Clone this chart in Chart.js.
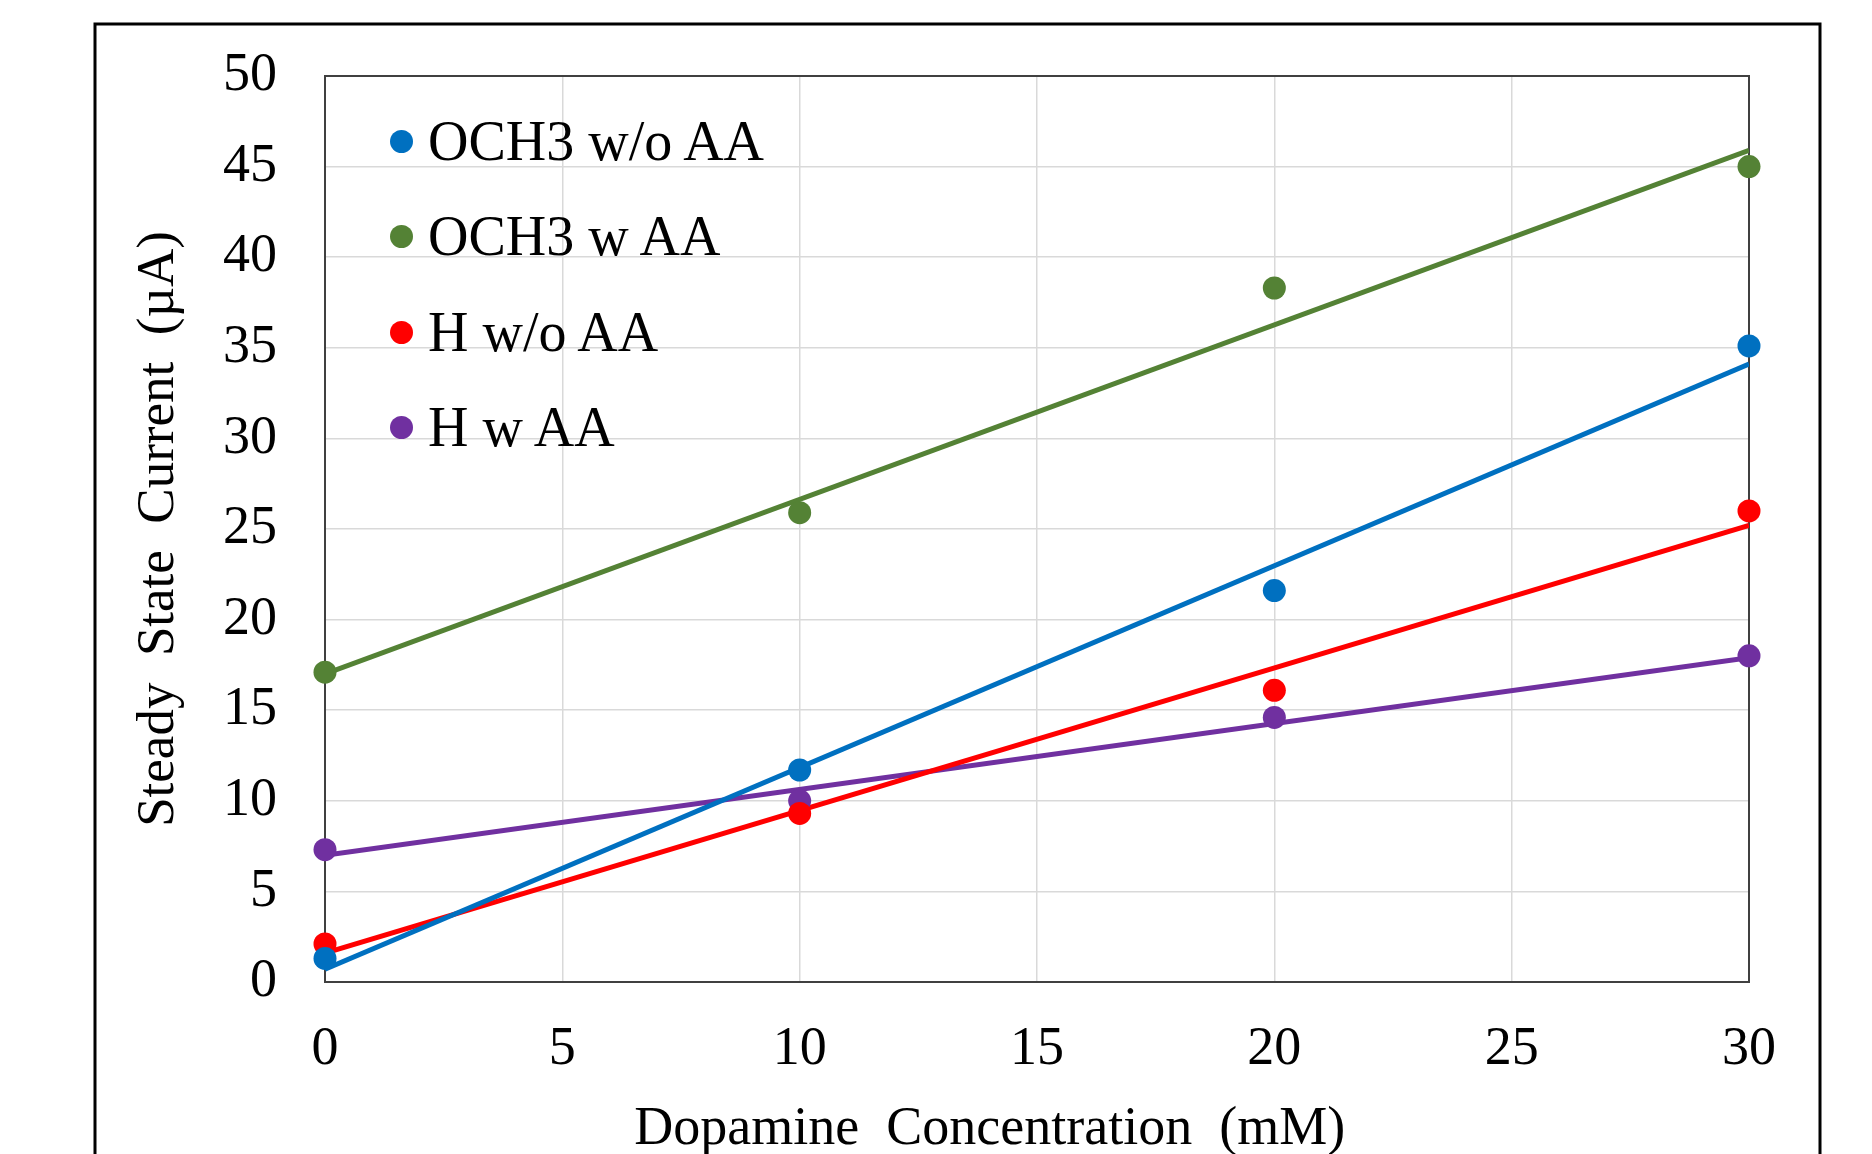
<!DOCTYPE html>
<html>
<head>
<meta charset="utf-8">
<script src="https://cdn.jsdelivr.net/npm/chart.js@4.4.1/dist/chart.umd.min.js"></script>
<style>
  html, body { margin: 0; padding: 0; background: #fff; }
  #wrap { position: relative; width: 1872px; height: 1154px; overflow: hidden; }
  #legend { position: absolute; left: 0; top: 0; font-family: "Liberation Serif", "Times New Roman", serif; font-size: 56px; color: #000; }
  .item { position: absolute; left: 390px; height: 60px; line-height: 60px; white-space: nowrap; display: flex; align-items: center; }
  .dot { width: 23px; height: 23px; border-radius: 50%; margin-right: 15px; }
</style>
</head>
<body>
<div id="wrap">
  <canvas id="chart" width="1872" height="1154"></canvas>
  <div id="legend"></div>
</div>
<script>
// data
const concentration = [0, 10, 20, 30];
const labels = ['OCH3 w/o AA', 'OCH3 w AA', 'H w/o AA', 'H w AA'];
const och3NoAA = [1.3, 11.7, 21.6, 35.1];
const och3AA = [17.1, 25.9, 38.3, 45.0];
const hNoAA = [2.1, 9.3, 16.1, 26.0];
const hAA = [7.3, 10.0, 14.6, 18.0];
// linear trendline ends at x = 0 and x = 30
const trendX = [0, 30];
const trendOch3NoAA = [0.7, 34.1];
const trendOch3AA = [17.0, 45.9];
const trendHNoAA = [1.6, 25.2];
const trendHAA = [7.0, 17.9];

const colors = ['#0070C0', '#548235', '#FF0000', '#7030A0'];
const series = [och3NoAA, och3AA, hNoAA, hAA];
const trends = [trendOch3NoAA, trendOch3AA, trendHNoAA, trendHAA];

const family = '"Liberation Serif", "Times New Roman", serif';
const font = { family: family, size: 54 };
const titleFont = { family: family, size: 54, lineHeight: 0.9 };

function pts(xs, ys) {
  return xs.map((x, i) => ({ x: x, y: ys[i] }));
}

const datasets = [];
series.forEach((s, i) => {
  datasets.push({
    label: labels[i],
    data: pts(concentration, s),
    backgroundColor: colors[i],
    borderWidth: 0,
    pointRadius: 11.5,
    pointHoverRadius: 11.5,
    showLine: false,
    clip: false
  });
});
trends.forEach((t, i) => {
  datasets.push({
    label: labels[i] + ' trend',
    data: pts(trendX, t),
    borderColor: colors[i],
    borderWidth: 5,
    pointRadius: 0,
    showLine: true,
    fill: false
  });
});

const frame = {
  id: 'frame',
  beforeDraw(chart) {
    const c = chart.ctx;
    c.save();
    c.fillStyle = '#fff';
    c.fillRect(0, 0, chart.width, chart.height);
    c.strokeStyle = '#000';
    c.lineWidth = 3;
    c.beginPath();
    c.moveTo(95, chart.height + 5);
    c.lineTo(95, 24);
    c.lineTo(1820, 24);
    c.lineTo(1820, chart.height + 5);
    c.stroke();
    c.restore();
  },
  beforeDatasetsDraw(chart) {
    const a = chart.chartArea;
    const c = chart.ctx;
    c.save();
    c.strokeStyle = '#404040';
    c.lineWidth = 2;
    c.strokeRect(a.left, a.top, a.right - a.left, a.bottom - a.top);
    c.restore();
  }
};

new Chart(document.getElementById('chart'), {
  type: 'scatter',
  data: { datasets: datasets },
  plugins: [frame],
  options: {
    responsive: false,
    animation: false,
    layout: { padding: { top: 76, right: 123, left: 0, bottom: 0 } },
    plugins: { legend: { display: false }, tooltip: { enabled: false } },
    scales: {
      x: {
        type: 'linear',
        min: 0,
        max: 30,
        ticks: { stepSize: 5, padding: 35, color: '#000', font: font },
        grid: { color: '#d9d9d9', lineWidth: 1.5, drawTicks: false },
        border: { display: false },
        title: {
          display: true,
          text: 'Dopamine  Concentration  (mM)       ',
          color: '#000',
          font: titleFont,
          padding: { top: 0, bottom: 0 }
        },
        afterFit(s) { s.height = 172; }
      },
      y: {
        min: 0,
        max: 50,
        ticks: { stepSize: 5, padding: 48, color: '#000', font: { family: family, size: 54, lineHeight: 0.5 } },
        grid: { color: '#d9d9d9', lineWidth: 1.5, drawTicks: false },
        border: { display: false },
        title: {
          display: true,
          text: 'Steady  State  Current  (\u00b5A)',
          color: '#000',
          font: { family: family, size: 53, lineHeight: 1 },
          padding: { top: 133, bottom: 0 }
        },
        afterFit(s) { s.width = 325; }
      }
    }
  }
});

// legend inside the plot, top left
const legendRows = [141, 236, 332, 427];
const legend = document.getElementById('legend');
labels.forEach((l, i) => {
  const item = document.createElement('div');
  item.className = 'item';
  item.style.top = (legendRows[i] - 30) + 'px';
  const dot = document.createElement('span');
  dot.className = 'dot';
  dot.style.background = colors[i];
  const txt = document.createElement('span');
  txt.textContent = l;
  item.appendChild(dot);
  item.appendChild(txt);
  legend.appendChild(item);
});
</script>
</body>
</html>
